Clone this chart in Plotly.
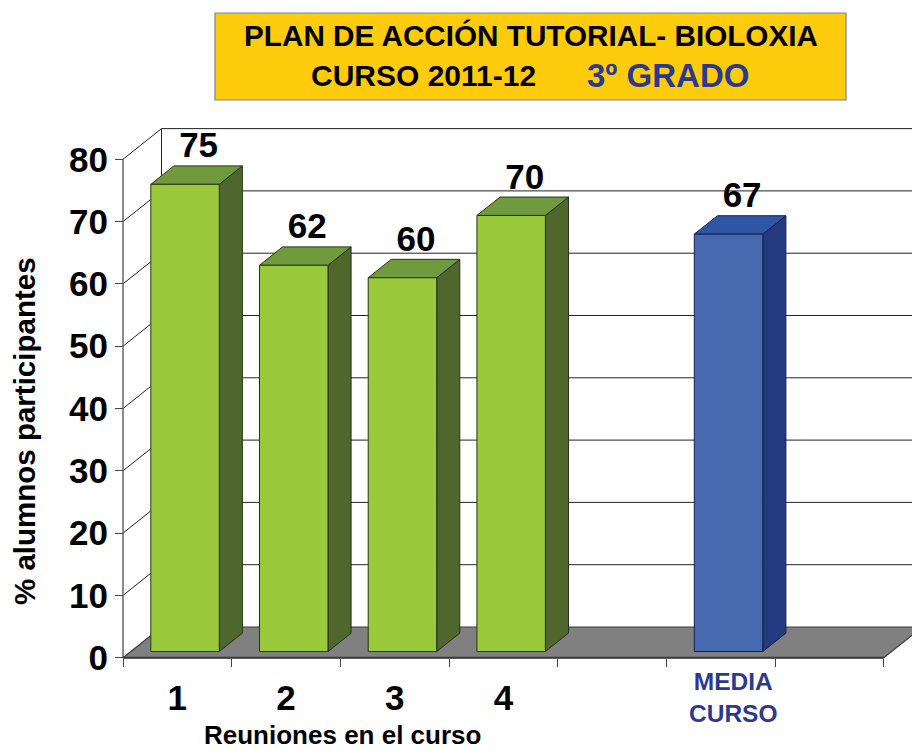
import plotly.graph_objects as go

# --- data ---
categories = ["1", "2", "3", "4", "", "MEDIA<br>CURSO"]
values = [75, 62, 60, 70, None, 67]
y_ticks = [0, 10, 20, 30, 40, 50, 60, 70, 80]
title_line1 = "PLAN DE ACCIÓN TUTORIAL- BIOLOXIA"
title_line2a = "CURSO 2011-12"
title_line2b = "3º GRADO"
y_title = "% alumnos participantes"
x_title = "Reuniones en el curso"

# --- geometry of the pseudo-3D box (in axis units) ---
W, H = 912, 751
M_L, M_R, M_T, M_B = 112, 0, 120, 81
PW, PH = W - M_L - M_R, H - M_T - M_B
X0_PX, Y0_PX = 123.0, 657.7
SX, SY = 108.7, 6.23
N_SLOTS = 7
DX, DY = 38.5 / SX, 30.7 / SY
BAR_W = 0.63
D_FRONT, D_BACK = 0.2, 0.8
LABEL_DX, LABEL_DY = 2 / SX, 9 / SY
INK = "#1c1c1c"
GREEN = ("#9aca3c", "#6f9b3e", "#4f672d", "#26331a")
BLUE = ("#4769b0", "#2f55a5", "#223a7e", "#141f4d")


def px(x):
    return (x - M_L) / PW


def py(y):
    return 1 - (y - M_T) / PH


def proj(x, v, d):
    return x + d * DX, v + d * DY


fig = go.Figure()


def poly(points, fill=None, line=INK, width=1):
    xs = [p[0] for p in points]
    ys = [p[1] for p in points]
    fig.add_trace(go.Scatter(
        x=xs, y=ys, mode="lines",
        fill="toself" if fill else "none", fillcolor=fill,
        line=dict(color=line, width=width),
        hoverinfo="skip", showlegend=False))


# gridlines: left wall then back wall
for v in y_ticks:
    if v == 0:
        continue
    poly([proj(0, v, 0), proj(0, v, 1), proj(N_SLOTS + 1, v, 1)], line="#222222", width=1)
poly([proj(0, 0, 1), proj(0, y_ticks[-1], 1)], line="#222222", width=1)
poly([proj(0, 0, 0), proj(0, y_ticks[-1], 0)], line="#666666", width=1.5)

# floor
poly([proj(0, 0, 0), proj(N_SLOTS, 0, 0), proj(N_SLOTS, 0, 1), proj(0, 0, 1), proj(0, 0, 0)],
     fill="#808080", line="#3a3a3a", width=1.2)
poly([proj(0, 0, 0), proj(N_SLOTS, 0, 0)], line="#3a3a3a", width=2)

# bars
lab_x, lab_y, lab_t = [], [], []
for i, v in enumerate(values):
    if v is None:
        continue
    cols = BLUE if str(categories[i]).startswith("MEDIA") else GREEN
    front, top, side, edge = cols
    xl = i + 0.5 - BAR_W / 2
    xr = i + 0.5 + BAR_W / 2
    poly([proj(xr, 0, D_FRONT), proj(xr, 0, D_BACK), proj(xr, v, D_BACK), proj(xr, v, D_FRONT),
          proj(xr, 0, D_FRONT)], fill=side, line=edge)
    poly([proj(xl, v, D_FRONT), proj(xr, v, D_FRONT), proj(xr, v, D_BACK), proj(xl, v, D_BACK),
          proj(xl, v, D_FRONT)], fill=top, line=edge)
    poly([proj(xl, 0, D_FRONT), proj(xr, 0, D_FRONT), proj(xr, v, D_FRONT), proj(xl, v, D_FRONT),
          proj(xl, 0, D_FRONT)], fill=front, line=edge)
    cx, cy = proj(i + 0.5, v, 0.5)
    lab_x.append(cx + LABEL_DX)
    lab_y.append(cy + LABEL_DY)
    lab_t.append(str(v))

BOLD = "Liberation Sans"
fig.add_trace(go.Scatter(
    x=lab_x, y=lab_y, text=lab_t, mode="text", textposition="top center",
    textfont=dict(family=BOLD, size=35, color="black", weight="bold"),
    hoverinfo="skip", showlegend=False))

slots = [i + 0.5 for i, c in enumerate(categories) if c and not c.startswith("MEDIA")]
labels = [c for c in categories if c and not c.startswith("MEDIA")]

fig.update_layout(
    width=W, height=H, autosize=False,
    margin=dict(l=M_L, r=M_R, t=M_T, b=M_B, pad=0),
    paper_bgcolor="white", plot_bgcolor="white",
    font=dict(family=BOLD),
    xaxis=dict(
        range=[-(X0_PX - M_L) / SX, (W - X0_PX) / SX],
        anchor="free", position=(M_T + PH - Y0_PX) / PH,
        showgrid=False, zeroline=False, showline=False,
        tickmode="array", tickvals=slots, ticktext=labels,
        ticks="", ticklabelstandoff=16,
        tickfont=dict(family=BOLD, size=35, color="black", weight="bold"),
        minor=dict(tickmode="array", tickvals=list(range(N_SLOTS + 1)),
                   ticks="outside", ticklen=8, tickcolor="#444444", tickwidth=1.2, showgrid=False),
    ),
    yaxis=dict(
        range=[-(M_T + PH - Y0_PX) / SY, (Y0_PX - M_T) / SY],
        anchor="free", position=(X0_PX - M_L) / PW,
        showgrid=False, zeroline=False, showline=False,
        tickmode="array", tickvals=y_ticks,
        ticks="outside", ticklen=8, tickcolor="#444444", tickwidth=1.2,
        tickfont=dict(family=BOLD, size=35, color="black", weight="bold"),
    ),
    shapes=[dict(type="rect", xref="paper", yref="paper",
                 x0=px(215), x1=px(846), y0=py(13), y1=py(100),
                 fillcolor="#ffcb0d", line=dict(color="#6b86b8", width=1.2))],
)

ann = [
    (531, 36, title_line1, 29.7, "black", 0),
    (423, 76, title_line2a, 30, "black", 0),
    (668, 76, title_line2b, 33, "#2b3990", 0),
    (342, 735, x_title, 26, "black", 0),
    (24, 431, y_title, 29.5, "black", -90),
]
for x, y, t, s, c, r in ann:
    fig.add_annotation(xref="paper", yref="paper", x=px(x), y=py(y), text=t, showarrow=False,
                       xanchor="center", yanchor="middle", textangle=r,
                       font=dict(family=BOLD, size=s, color=c, weight="bold"))

for i, c in enumerate(categories):
    if c.startswith("MEDIA"):
        fig.add_annotation(xref="x", yref="paper", x=i + 0.613, y=py(697), text=c, showarrow=False,
                           xanchor="center", yanchor="middle", align="center",
                           font=dict(family=BOLD, size=24.5, color="#2b3990", weight="bold"))

fig.write_html("out.html", config=dict(displayModeBar=False),
               post_script="document.body.style.margin='0';")
